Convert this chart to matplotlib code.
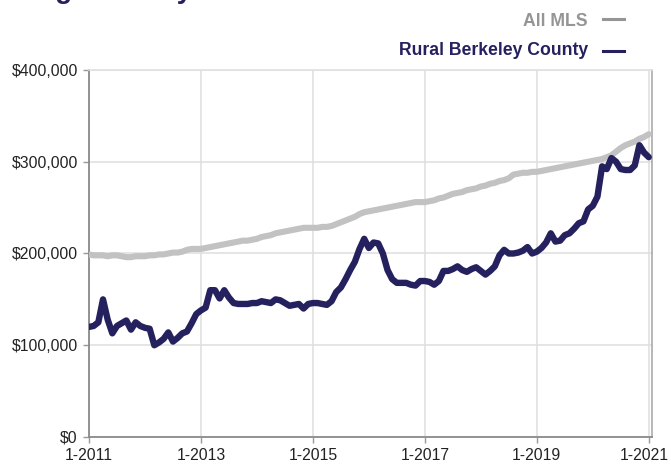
import numpy as np
import matplotlib
matplotlib.use('Agg')
import matplotlib.pyplot as plt
import matplotlib.transforms as mtransforms

# monthly median sales price, Jan 2011 .. Jan 2021 (in $1000)
all_mls = [
    199, 198, 198, 198, 197, 198, 198, 197, 196, 196, 197, 197,
    197, 198, 198, 199, 199, 200, 201, 201, 202, 204, 205, 205,
    205, 206, 207, 208, 209, 210, 211, 212, 213, 214, 214, 215,
    216, 218, 219, 220, 222, 223, 224, 225, 226, 227, 228, 228,
    228, 228, 229, 229, 230, 232, 234, 236, 238, 240, 243, 245,
    246, 247, 248, 249, 250, 251, 252, 253, 254, 255, 256, 256,
    256, 257, 258, 260, 261, 263, 265, 266, 267, 269, 270, 271,
    273, 274, 276, 277, 279, 280, 282, 286, 287, 288, 288, 289,
    289, 290, 291, 292, 293, 294, 295, 296, 297, 298, 299, 300,
    301, 302, 303, 305, 307, 311, 315, 318, 320, 322, 325, 327,
    330,
]
rural_berkeley = [
    120, 121, 125, 150, 128, 113, 121, 124, 127, 117, 125, 121,
    119, 118, 100, 103, 107, 114, 104, 108, 113, 115, 124, 134,
    138, 141, 160, 160, 151, 160, 152, 146, 145, 145, 145, 146,
    146, 148, 147, 146, 150, 149, 146, 143, 144, 145, 140, 145,
    146, 146, 145, 144, 148, 158, 163, 172, 182, 191, 205, 216,
    206, 212, 211, 200, 182, 172, 168, 168, 168, 166, 165, 170,
    170, 169, 166, 170, 181, 181, 183, 186, 182, 180, 183, 185,
    181, 177, 181, 186, 198, 204, 200, 200, 201, 203, 207, 200,
    202, 206, 212, 222, 213, 214, 220, 222, 227, 233, 235, 248,
    252, 262, 295, 292, 304, 300, 292, 291, 291, 296, 318, 310,
    305,
]
tick_labels = ['1-2011', '1-2013', '1-2015', '1-2017', '1-2019', '1-2021']
y_ticks = [0, 100000, 200000, 300000, 400000]

navy = '#24215e'
grey_line = '#c2c2c2'

plt.rcParams['font.family'] = ['Liberation Sans', 'DejaVu Sans']

fig = plt.figure(figsize=(6.71, 4.66), dpi=100)
ax = fig.add_axes([89 / 671, 1 - 437 / 466, (652 - 89) / 671, (437 - 70) / 466])

months = np.arange(len(all_mls))
ax.plot(months, np.array(all_mls) * 1000, color=grey_line, lw=4.4,
        solid_capstyle='round', solid_joinstyle='round', zorder=3)
ax.plot(months, np.array(rural_berkeley) * 1000, color=navy, lw=4.6,
        solid_capstyle='round', solid_joinstyle='round', zorder=4)

ax.set_xlim(0, 120.7)
ax.set_ylim(0, 400000)
ax.set_xticks(np.arange(0, 121, 24))
ax.set_xticklabels(tick_labels)
ax.set_yticks(y_ticks)
ax.set_yticklabels(['${:,}'.format(v) for v in y_ticks])
ax.grid(True, color='#e0e0e0', lw=1.2, zorder=0)
ax.tick_params(axis='both', labelsize=11.3, colors='#222222', length=4,
               width=1, pad=4)
ax.tick_params(axis='both', color='#999999')
for side in ['left', 'bottom']:
    ax.spines[side].set_color('#8a8a8a')
    ax.spines[side].set_linewidth(1.3)
ax.spines['right'].set_color('#aaaaaa')
ax.spines['right'].set_linewidth(1.2)
ax.spines['top'].set_color('#e0e0e0')
ax.spines['top'].set_linewidth(1.2)

# last x label sits a bit left of its tick so it stays inside the picture
last = ax.get_xticklabels()[-1]
last.set_transform(last.get_transform() + mtransforms.ScaledTranslation(-4 / 100, 0, fig.dpi_scale_trans))

# legend drawn as text + short dashes, like the source
fig.text(588 / 671, 1 - 26 / 466, 'All MLS', ha='right', va='baseline',
         fontsize=12.7, fontweight='bold', color='#959595')
fig.text(588 / 671, 1 - 55 / 466, 'Rural Berkeley County', ha='right', va='baseline',
         fontsize=12.7, fontweight='bold', color=navy)
fig.add_artist(plt.Line2D([603 / 671, 624 / 671], [1 - 19 / 466] * 2, color='#959595', lw=2.2))
fig.add_artist(plt.Line2D([603 / 671, 624 / 671], [1 - 51 / 466] * 2, color=navy, lw=2.2))

# title, mostly cut off at the top of the image
fig.text(12 / 671, 1 + 2 / 466, 'Single-Family Detached', ha='left', va='baseline',
         fontsize=20, fontweight='bold', color=navy)

fig.savefig('out.png', dpi=100)
